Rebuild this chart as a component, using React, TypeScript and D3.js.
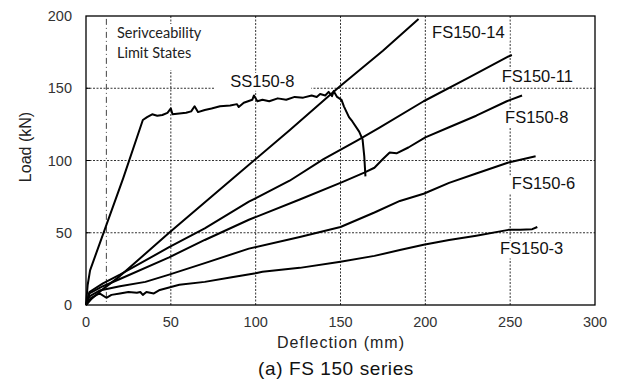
import React from 'react';
import * as d3 from 'd3';

// deflection (mm), load (kN)
const ss150_8: [number, number][] = [
  [0, 0], [1, 14], [2.4, 24], [22, 88], [33.5, 128], [36, 130], [39, 132], [42, 131], [45, 131.5],
  [48, 133], [50, 136], [51, 132], [55, 132.5], [59, 133], [62, 134], [64, 137.5], [66, 133.5],
  [70, 135], [74, 136], [79, 137.5], [85, 138], [89, 139], [90, 137], [93, 140], [98, 142],
  [99, 145], [101, 141], [104, 142], [108, 141], [113, 143], [118, 142], [123, 144], [128, 143.5],
  [133, 145], [136, 144], [138, 146], [141, 145], [143, 147.5], [145, 144.5], [146, 148], [148, 144],
  [150.6, 142], [152, 137.5], [155, 130], [157, 127], [161, 120], [163, 114.6], [164, 103], [164.7, 89],
];
const fs150_14: [number, number][] = [
  [0, 0], [3, 4], [10, 11], [20, 20], [49, 50], [86, 87], [120, 121], [149, 150.7], [175, 176], [196, 198],
];
const fs150_11: [number, number][] = [
  [0, 0], [2, 9], [10, 15], [20, 21], [49, 40], [70, 53], [96, 71.5], [120, 86], [140, 101],
  [160, 114], [173, 122.7], [199, 141], [225, 157], [249, 172], [251, 173],
];
const fs150_8: [number, number][] = [
  [0, 0], [2, 8], [10, 13], [20, 18], [49, 33], [70, 45], [96, 59], [126, 73], [151, 85],
  [164, 91.6], [170, 95], [175, 101], [179, 105.5], [183, 105], [190, 109], [200, 116],
  [214, 123], [230, 131], [248, 141], [257, 145],
];
const fs150_6: [number, number][] = [
  [0, 0], [2, 6], [8, 10], [20, 13], [35, 16], [49, 21], [70, 29], [96, 39], [126, 47],
  [150, 54], [170, 64], [185, 72], [199, 77], [214, 84.5], [230, 91], [249, 98.6], [265, 103],
];
const fs150_3: [number, number][] = [
  [0, 0], [3, 5], [8, 8], [12, 5], [15, 7], [20, 8], [25, 9], [30, 8.5], [32, 9], [33.5, 7],
  [35.6, 9], [40, 8], [43.5, 10.4], [55, 14], [70, 16], [85, 19], [100, 22], [104, 23],
  [126, 25.7], [150, 30], [170, 34], [185, 38], [199, 41.7], [214, 45], [230, 48], [249, 52],
  [256, 52], [263, 52.5], [266, 54],
];

const series = [ss150_8, fs150_14, fs150_11, fs150_8, fs150_6, fs150_3];
const curveLabels = ['SS150-8', 'FS150-14', 'FS150-11', 'FS150-8', 'FS150-6', 'FS150-3'];
// label anchor positions in data units (deflection, load)
const labelAt: [number, number][] = [
  [85, 151], [204, 185], [245, 154], [247, 126], [251, 80], [244, 35],
];
const xTicks = [0, 50, 100, 150, 200, 250, 300];
const yTicks = [0, 50, 100, 150, 200];
const slsDeflection = 12;

const W = 622;
const H = 380;
const M = { left: 86, right: 27, top: 16, bottom: 75 };

export default function App() {
  const x = d3.scaleLinear().domain([0, 300]).range([M.left, W - M.right]);
  const y = d3.scaleLinear().domain([0, 200]).range([H - M.bottom, M.top]);
  const line = d3.line<[number, number]>().x(d => x(d[0])).y(d => y(d[1]));

  const font = '"Liberation Sans", Arial, sans-serif';

  return (
    <svg width={W} height={H} style={{ position: 'absolute', left: 0, top: 0, background: '#fff' }}>
      {/* grid */}
      {xTicks.slice(1, -1).map(t => (
        <line key={'gx' + t} x1={x(t)} x2={x(t)} y1={y(200)} y2={y(0)} stroke="#333" strokeWidth={1} strokeDasharray="2,1.5" />
      ))}
      {yTicks.slice(1, -1).map(t => (
        <line key={'gy' + t} x1={x(0)} x2={x(300)} y1={y(t)} y2={y(t)} stroke="#333" strokeWidth={1} strokeDasharray="2,1.5" />
      ))}
      {/* serviceability limit line */}
      <line x1={x(slsDeflection)} x2={x(slsDeflection)} y1={y(198)} y2={y(0)} stroke="#444" strokeWidth={1} strokeDasharray="6,3,1,3" />

      {/* label masks */}
      <rect x={112} y={24} width={94} height={46} fill="#fff" />
      {curveLabels.map((l, i) => (
        <rect key={'m' + l} x={x(labelAt[i][0]) - (i === 0 ? 16 : 3)} y={y(labelAt[i][1]) - 14}
          width={l.length * 9.3 + (i === 0 ? 32 : 6)} height={18} fill="#fff" />
      ))}

      {/* curves */}
      {series.map((s, i) => (
        <path key={curveLabels[i]} d={line(s) || ''} fill="none" stroke="#000" strokeWidth={2} strokeLinejoin="round" />
      ))}

      {/* frame */}
      <rect x={x(0)} y={y(200)} width={x(300) - x(0)} height={y(0) - y(200)} fill="none" stroke="#000" strokeWidth={1.3} />
      {yTicks.slice(1, -1).map(t => (
        <line key={'ty' + t} x1={x(0)} x2={x(0) + 4} y1={y(t)} y2={y(t)} stroke="#000" />
      ))}

      {/* tick labels */}
      {yTicks.map(t => (
        <text key={'ly' + t} x={72} y={y(t) + 5} textAnchor="end" fontFamily={font} fontSize={14.5} fill="#333">{t}</text>
      ))}
      {xTicks.map(t => (
        <text key={'lx' + t} x={x(t)} y={327} textAnchor="middle" fontFamily={font} fontSize={14.5} fill="#333">{t}</text>
      ))}

      {/* curve labels */}
      {curveLabels.map((l, i) => (
        <text key={'t' + l} x={x(labelAt[i][0])} y={y(labelAt[i][1])} fontFamily={font} fontSize={16.5} fill="#111">{l}</text>
      ))}

      <text x={117} y={38} fontFamily="Lato, 'Open Sans', sans-serif" fontSize={14.5} fill="#222">Serivceability</text>
      <text x={117} y={58} fontFamily="Lato, 'Open Sans', sans-serif" fontSize={14.5} fill="#222">Limit States</text>

      {/* axis titles */}
      <text transform="translate(31,147) rotate(-90)" textAnchor="middle" fontFamily={font} fontSize={16} fill="#222">Load (kN)</text>
      <text x={341} y={348} textAnchor="middle" fontFamily={font} fontSize={16} letterSpacing={1} fill="#222">Deflection (mm)</text>
      <text x={336} y={375} textAnchor="middle" fontFamily={font} fontSize={19} letterSpacing={0.6} fill="#111">(a) FS 150 series</text>
    </svg>
  );
}
